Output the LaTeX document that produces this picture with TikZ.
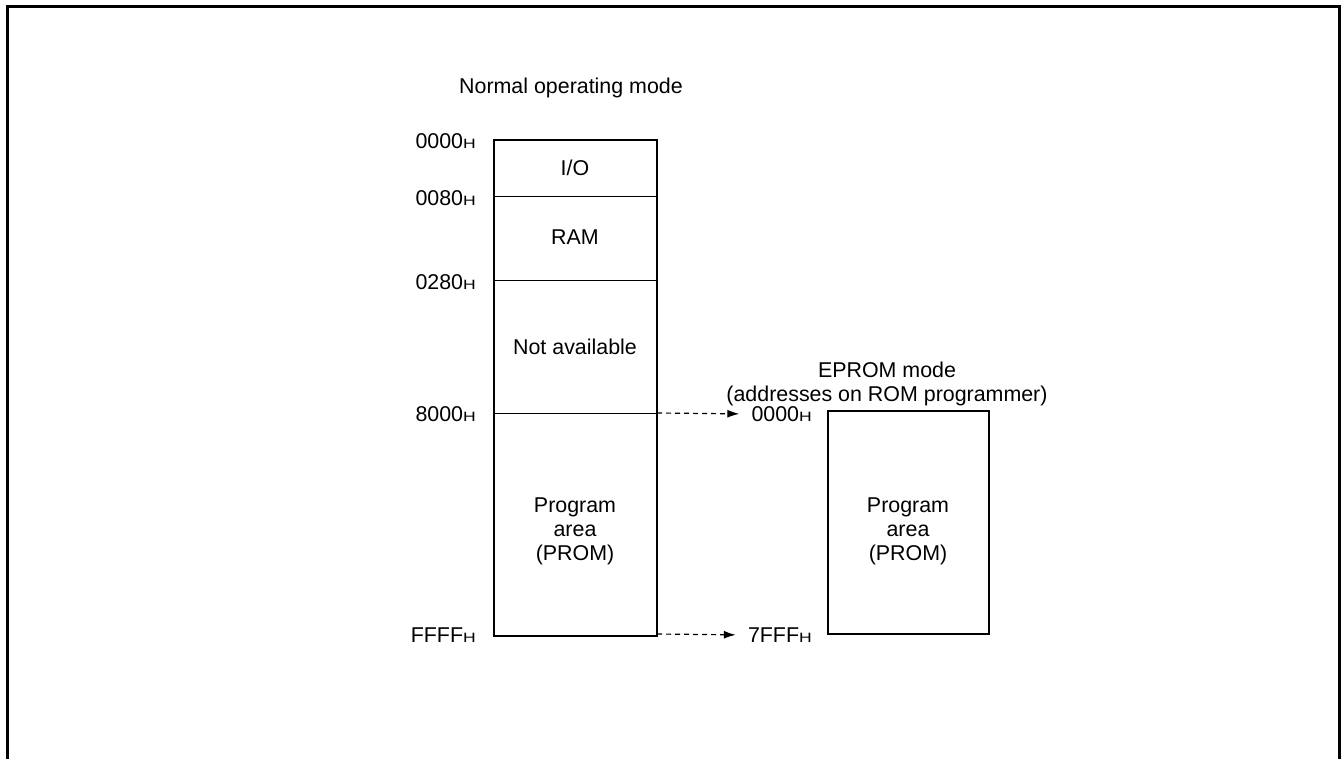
\documentclass[tikz,border=0pt]{standalone}
\usepackage{fontspec}
\usepackage{graphicx}
\setmainfont{Liberation Sans}
\usetikzlibrary{arrows.meta}
\newcommand{\hsub}{\scalebox{1.3}[1]{\fontsize{13.5}{13.5}\selectfont H}}
\tikzset{
  lbl/.style={font=\fontsize{21.4}{24}\selectfont, inner sep=0pt},
  addr/.style={lbl, anchor=east},
  box/.style={draw, line width=2pt},
  divider/.style={line width=1pt},
  maparrow/.style={line width=1.2pt, dash pattern=on 5pt off 4pt, shorten >=12pt, -{Latex[length=12pt,width=8pt]}}
}
\begin{document}
\begin{tikzpicture}[x=1pt,y=-1pt]
\useasboundingbox (0,0) rectangle (1342,759);
% outer frame (bottom edge lies below the page)
\draw[line width=3pt] (7,775) -- (7,7) -- (1339,7) -- (1339,775);

% left memory map
\coordinate (lt) at (494,140);
\coordinate (lb) at (657,636);
\draw[box] (lt) rectangle (lb);
\coordinate (l1a) at (494,197); \coordinate (l1b) at (657,197);
\coordinate (l2a) at (494,281); \coordinate (l2b) at (657,281);
\coordinate (l3a) at (494,413); \coordinate (l3b) at (657,413);
\coordinate (l4b) at (657,634);
\draw[divider] (l1a) -- (l1b);
\draw[divider] (l2a) -- (l2b);
\draw[divider] (l3a) -- (l3b);

\node[lbl] (title1) at (571,88) {Normal operating mode};
\node[lbl] (io) at (575,168) {I/O};
\node[lbl] (ram) at (575,237) {RAM};
\node[lbl] (na) at (575,347) {Not available};
\node[lbl, align=center] (prog1) at (575,531) {Program\\area\\(PROM)};

\node[addr] (a0) at (476,141) {0000\hsub};
\node[addr] (a1) at (476,198) {0080\hsub};
\node[addr] (a2) at (476,282) {0280\hsub};
\node[addr] (a3) at (476,414) {8000\hsub};
\node[addr] (a4) at (476,635) {FFFF\hsub};

% right memory map
\coordinate (rt) at (828,411);
\coordinate (rb) at (989,634);
\draw[box] (rt) rectangle (rb);
\node[lbl, align=center] (title2) at (887,384) {EPROM mode\\(addresses on ROM programmer)};
\node[lbl, align=center] (prog2) at (908,531) {Program\\area\\(PROM)};
\node[addr] (b0) at (812,414) {0000\hsub};
\node[addr] (b1) at (812,635) {7FFF\hsub};

% mapping arrows
\draw[maparrow] (l3b) -- (b0.west);
\draw[maparrow] (l4b) -- (b1.west);
\end{tikzpicture}
\end{document}
